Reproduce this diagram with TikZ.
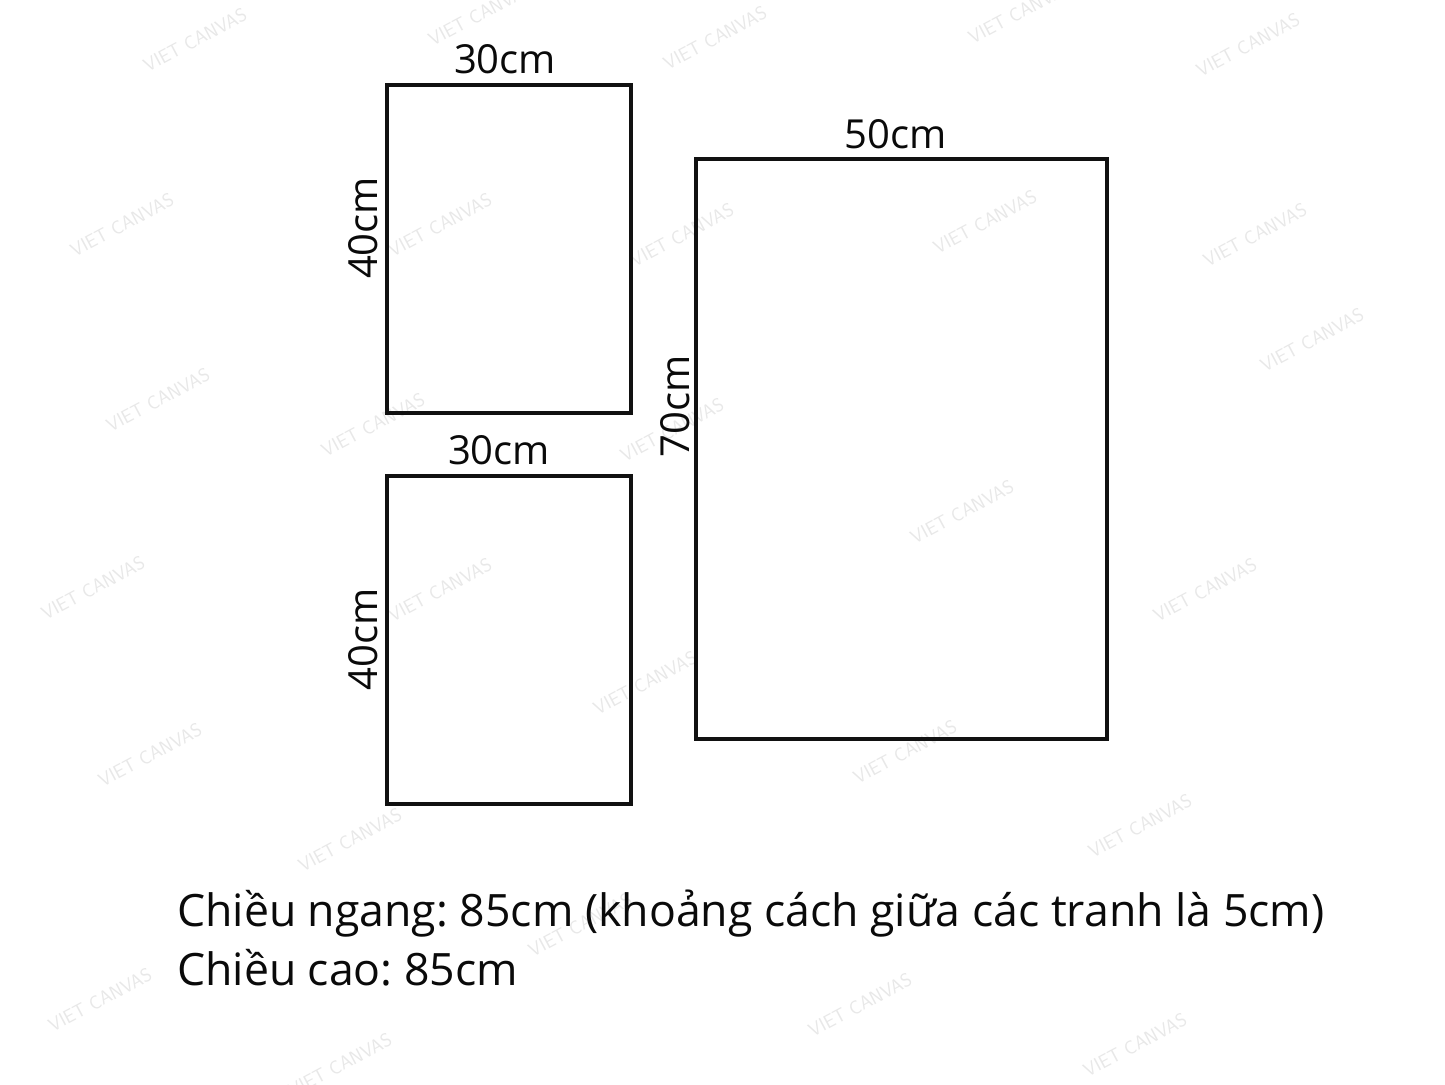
\documentclass[tikz,border=0pt]{standalone}
\usepackage{fontspec}
\setmainfont{Open Sans}
\usetikzlibrary{positioning}
\frenchspacing
\definecolor{framecolor}{HTML}{111111}
\definecolor{labelcolor}{HTML}{0A0A0A}
\definecolor{markcolor}{HTML}{E8E8E8}
\tikzset{
  canvasbox/.style={draw=framecolor, line width=3.6pt, inner sep=0pt},
  dimlabel/.style={font=\fontsize{40}{44}\selectfont, text=labelcolor, inner sep=0pt},
  notetext/.style={font=\fontsize{44.6}{50}\selectfont, text=labelcolor, inner sep=0pt, anchor=base west},
  watermark/.style={font=\sffamily\fontsize{19}{21}\selectfont, text=markcolor, rotate=28, inner sep=0pt}
}
\begin{document}
\begin{tikzpicture}[x=1pt, y=-1pt]
  \useasboundingbox[fill=white] (0,0) rectangle (1445,1084);

  % watermark
  \foreach \wx/\wy in {195/40, 480/14, 715/38, 1020/12, 1248/45,
      122/225, 440/225, 682/235, 985/222, 1255/235, 1312/340,
      158/400, 373/425, 672/430, 962/512, 93/588, 440/590, 645/683,
      1205/590, 150/755, 905/752, 350/840, 1140/826, 580/925,
      100/1000, 860/1005, 340/1065, 1135/1045} {
    \node[watermark] at (\wx, \wy) {VIET CANVAS};
  }

  % === CANVAS PANELS ===
  \node[canvasbox, minimum width=244pt, minimum height=328pt] (topbox) at (509, 249) {};
  \node[canvasbox, minimum width=244pt, minimum height=328pt] (bottombox) at (509, 640) {};
  \node[canvasbox, minimum width=411pt, minimum height=580pt] (bigbox) at (901.5, 449) {};

  % Dimension labels
  \node[dimlabel, anchor=south] (topwidth) at ([xshift=-4pt, yshift=9pt]topbox.north) {30cm};
  \node[dimlabel, anchor=south, rotate=90] (topheight) at ([xshift=-7pt, yshift=21pt]topbox.west) {40cm};
  \node[dimlabel, anchor=south] (bottomwidth) at ([xshift=-10pt, yshift=9pt]bottombox.north) {30cm};
  \node[dimlabel, anchor=south, rotate=90] (bottomheight) at ([xshift=-7pt, yshift=1pt]bottombox.west) {40cm};
  \node[dimlabel, anchor=south] (bigwidth) at ([xshift=-6pt, yshift=8pt]bigbox.north) {50cm};
  \node[dimlabel, anchor=south, rotate=90] (bigheight) at ([xshift=-4pt, yshift=43pt]bigbox.west) {70cm};

  % === SIZE NOTE ===
  \node[notetext] (widthnote) at (177, 926) {Chiều ngang: 85cm (khoảng cách giữa các tranh là 5cm)};
  \node[notetext] (heightnote) at (177, 985) {Chiều cao: 85cm};
\end{tikzpicture}
\end{document}
